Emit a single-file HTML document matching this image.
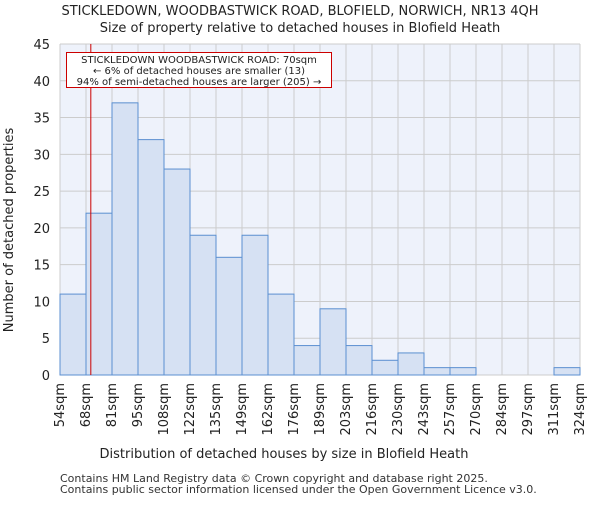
<!DOCTYPE html>
<html><head><meta charset="utf-8"><style>
body{margin:0;background:#fff;font-family:"Liberation Sans","DejaVu Sans",sans-serif}
svg text{font-family:"DejaVu Sans","Liberation Sans",sans-serif}
</style></head><body>
<svg id="chart" width="600" height="500" xmlns="http://www.w3.org/2000/svg"></svg>
<script>
const binStarts=[54,67.5,81,94.5,108,121.5,135,148.5,162,175.5,189,202.5,216,229.5,243,256.5,270,283.5,297,310.5];
const binWidth=13.5;
const counts=[11,22,37,32,28,19,16,19,11,4,9,4,2,3,1,1,0,0,0,1];
const tickLabels=["54sqm","68sqm","81sqm","95sqm","108sqm","122sqm","135sqm","149sqm","162sqm","176sqm","189sqm","203sqm","216sqm","230sqm","243sqm","257sqm","270sqm","284sqm","297sqm","311sqm","324sqm"];
const yTicks=[0,5,10,15,20,25,30,35,40,45];
const marker=70;
const L=60,R=580,T=44,B=375,xmin=54,xmax=324,ymax=45;
const X=v=>L+(v-xmin)*(R-L)/(xmax-xmin);
const Y=v=>B-v*(B-T)/ymax;
const svg=document.getElementById('chart');
const NS='http://www.w3.org/2000/svg';
function el(t,a,txt){const e=document.createElementNS(NS,t);for(const k in a)e.setAttribute(k,a[k]);if(txt!==undefined)e.textContent=txt;svg.appendChild(e);return e;}
let e;
e=el('rect',{x:L,y:T,width:R-L,height:B-T,fill:'#eef2fb'});


yTicks.forEach(v=>{
 e=el('line',{x1:L,x2:R,y1:Y(v),y2:Y(v),stroke:'#cccccc','stroke-width':1});
 
 
 e=el('text',{x:L-10,y:Y(v)+5,'text-anchor':'end','font-size':13,fill:'#222'},String(v));
 
 
});
tickLabels.forEach((t,i)=>{
 const v=i<binStarts.length?binStarts[i]:binStarts[i-1]+binWidth;
 e=el('line',{x1:X(v),x2:X(v),y1:T,y2:B,stroke:'#cccccc','stroke-width':1});
 
 
 const tx=X(v)+4, ty=B+8;
 e=el('text',{x:tx,y:ty,'text-anchor':'end','font-size':13,fill:'#222',transform:`rotate(-90 ${tx} ${ty})`},t);
 
 
});
counts.forEach((c,i)=>{
 if(c<=0)return;
 e=el('rect',{x:X(binStarts[i]),y:Y(c),width:X(binStarts[i]+binWidth)-X(binStarts[i]),height:Y(0)-Y(c),fill:'#d6e1f3',stroke:'#5b8fd0','stroke-width':1});
 
 
});
e=el('line',{x1:X(marker),x2:X(marker),y1:T,y2:B,stroke:'#cc0000','stroke-width':1});


e=el('rect',{x:66.5,y:52.5,width:265,height:35,fill:'#fff',stroke:'#cc0000','stroke-width':1});


[["STICKLEDOWN WOODBASTWICK ROAD: 70sqm",63],["← 6% of detached houses are smaller (13)",74],["94% of semi-detached houses are larger (205) →",85]].forEach(a=>{
 e=el('text',{x:199,y:a[1],'text-anchor':'middle','font-size':10,fill:'#222'},a[0]);
 
 
});
e=el('text',{x:300,y:15,'text-anchor':'middle','font-size':13,fill:'#222'},'STICKLEDOWN, WOODBASTWICK ROAD, BLOFIELD, NORWICH, NR13 4QH');


e=el('text',{x:300,y:32,'text-anchor':'middle','font-size':13,fill:'#222'},'Size of property relative to detached houses in Blofield Heath');


e=el('text',{x:284,y:458,'text-anchor':'middle','font-size':13,fill:'#222'},'Distribution of detached houses by size in Blofield Heath');


e=el('text',{x:13,y:230,'text-anchor':'middle','font-size':13,fill:'#222',transform:'rotate(-90 13 230)'},'Number of detached properties');


e=el('text',{x:60,y:482,'font-size':11,fill:'#333'},'Contains HM Land Registry data © Crown copyright and database right 2025.');


e=el('text',{x:60,y:493,'font-size':11,fill:'#333'},'Contains public sector information licensed under the Open Government Licence v3.0.');


</script>
</body></html>
